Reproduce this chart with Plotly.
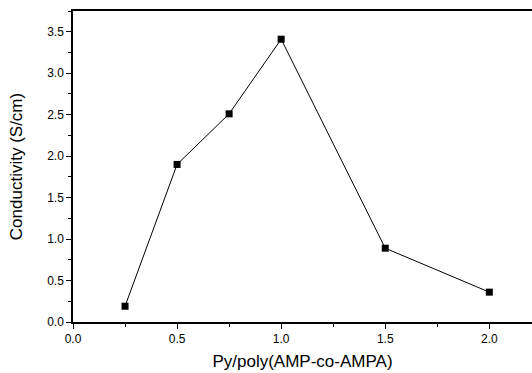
import plotly.graph_objects as go

ratio = [0.25, 0.5, 0.75, 1.0, 1.5, 2.0]
conductivity = [0.19, 1.90, 2.51, 3.41, 0.89, 0.36]

x_title = "Py/poly(AMP-co-AMPA)"
y_title = "Conductivity (S/cm)"

fig = go.Figure()
fig.add_trace(go.Scatter(
    x=ratio, y=conductivity, mode="lines+markers",
    line=dict(color="black", width=1),
    marker=dict(symbol="square", size=7, color="black"),
    showlegend=False,
))

font_family = "Liberation Sans, Arial, sans-serif"
fig.update_layout(
    width=532, height=373,
    margin=dict(l=73, r=0, t=11, b=51),
    paper_bgcolor="white", plot_bgcolor="white",
    font=dict(family=font_family, color="black"),
    xaxis=dict(
        range=[0, 2.205], dtick=0.5, tick0=0, tickformat=".1f",
        showline=True, linecolor="black", linewidth=1.5, mirror=True,
        ticks="outside", ticklen=5, tickwidth=1, tickcolor="black",
        minor=dict(dtick=0.25, ticks="outside", ticklen=3, tickcolor="black"),
        showgrid=False, zeroline=False,
        tickfont=dict(size=12),
        title=dict(text=x_title, font=dict(size=17), standoff=10),
    ),
    yaxis=dict(
        range=[0, 3.75], dtick=0.5, tick0=0, tickformat=".1f",
        showline=True, linecolor="black", linewidth=1.5,
        ticks="outside", ticklen=5, tickwidth=1, tickcolor="black",
        minor=dict(dtick=0.25, ticks="outside", ticklen=3, tickcolor="black"),
        showgrid=False, zeroline=False,
        tickfont=dict(size=12),
        title=dict(text=y_title, font=dict(size=17), standoff=20),
    ),
)

fig.write_html("out.html")
